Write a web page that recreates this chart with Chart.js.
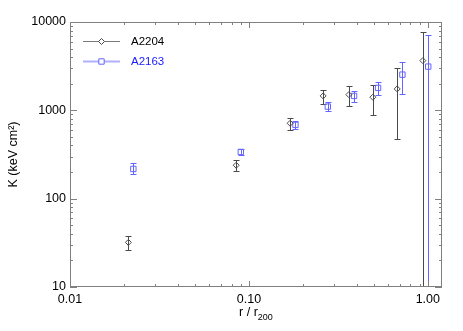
<!DOCTYPE html>
<html>
<head>
<meta charset="utf-8">
<script src="https://cdn.jsdelivr.net/npm/chart.js@4"></script>
<style>
  html, body { margin: 0; padding: 0; background: #fff; }
  #wrap { width: 463px; height: 331px; }
</style>
</head>
<body>
<div id="wrap"><canvas id="entropy" width="463" height="331"></canvas></div>
<script>
    'use strict';

    // A2204 (black diamonds)
    const rA2204 = [0.0212, 0.0849, 0.170, 0.260, 0.362, 0.493, 0.674, 0.938];
    const kA2204 = [32, 239, 714, 1456, 1506, 1407, 1747, 3655];
    const kA2204Hi = [37.8, 272, 827, 1716, 1875, 1924, 3045, 7660];
    const kA2204Lo = [26.2, 206, 600, 1172, 1122, 894, 471, 1];

    // A2163 (blue squares)
    const rA2163 = [0.0226, 0.0901, 0.182, 0.276, 0.387, 0.527, 0.721, 1.005];
    const kA2163 = [217, 338, 684, 1102, 1456, 1794, 2536, 3126];
    const kA2163Hi = [252, 368, 759, 1236, 1645, 2114, 3563, 7196];
    const kA2163Lo = [190, 310, 621, 977, 1256, 1483, 1521, 1];

    const xTicks = [0.01, 0.1, 1];
    const xTickLabels = ['0.01', '0.10', '1.00'];
    const yTicks = [10, 100, 1000, 10000];
    const yTickLabels = ['10', '100', '1000', '10000'];

    const BLACK = '#4a4a4a';
    const BLUE = '#6464ff';
    const FONT = '"Liberation Sans", Arial, sans-serif';

    function pts(xs, ys) { return xs.map((x, i) => ({ x: x, y: ys[i] })); }

    function minorValues(min, max) {
        const out = [];
        for (let e = Math.floor(Math.log10(min)); e <= Math.ceil(Math.log10(max)); e++) {
            for (let m = 1; m <= 9; m++) {
                const v = m * Math.pow(10, e);
                if (v >= min * 0.999 && v <= max * 1.001) out.push({ v: v, major: m === 1 });
            }
        }
        return out;
    }

    const framePlugin = {
        id: 'idlFrame',
        beforeDatasetsDraw(chart) {
            const { ctx, chartArea: a, scales: { x, y } } = chart;
            // error bars
            ctx.save();
            ctx.beginPath();
            ctx.rect(a.left, a.top, a.right - a.left, a.bottom - a.top);
            ctx.clip();
            const sets = [
                { r: rA2204, hi: kA2204Hi, lo: kA2204Lo, c: BLACK },
                { r: rA2163, hi: kA2163Hi, lo: kA2163Lo, c: BLUE }
            ];
            sets.forEach(s => {
                ctx.strokeStyle = s.c;
                ctx.lineWidth = 1;
                s.r.forEach((r, i) => {
                    const px = Math.round(x.getPixelForValue(r)) + 0.5;
                    const py1 = Math.round(y.getPixelForValue(s.hi[i])) + 0.5;
                    const py2 = Math.round(y.getPixelForValue(s.lo[i])) + 0.5;
                    ctx.beginPath();
                    ctx.moveTo(px, py1); ctx.lineTo(px, py2);
                    ctx.moveTo(px - 3, py1); ctx.lineTo(px + 3, py1);
                    ctx.moveTo(px - 3, py2); ctx.lineTo(px + 3, py2);
                    ctx.stroke();
                });
            });
            ctx.restore();
        },
        afterDraw(chart) {
            const { ctx, chartArea: a, scales: { x, y } } = chart;
            ctx.save();
            // frame
            ctx.strokeStyle = '#808080';
            ctx.lineWidth = 1;
            ctx.strokeRect(a.left + 0.5, a.top + 0.5, a.right - a.left - 1, a.bottom - a.top - 1);

            // inward ticks
            ctx.beginPath();
            minorValues(x.min, x.max).forEach(t => {
                const px = Math.round(x.getPixelForValue(t.v)) + 0.5;
                const len = t.major ? 6 : 3;
                ctx.moveTo(px, a.bottom); ctx.lineTo(px, a.bottom - len);
                ctx.moveTo(px, a.top); ctx.lineTo(px, a.top + len);
            });
            minorValues(y.min, y.max).forEach(t => {
                const py = Math.round(y.getPixelForValue(t.v)) + 0.5;
                const len = t.major ? 7 : 3;
                ctx.moveTo(a.left, py); ctx.lineTo(a.left + len, py);
                ctx.moveTo(a.right, py); ctx.lineTo(a.right - len, py);
            });
            ctx.stroke();

            // tick labels
            ctx.fillStyle = '#000';
            ctx.font = '12.5px ' + FONT;
            ctx.textAlign = 'center';
            ctx.textBaseline = 'middle';
            xTicks.forEach((v, i) => ctx.fillText(xTickLabels[i], x.getPixelForValue(v), a.bottom + 13));
            ctx.textAlign = 'right';
            yTicks.forEach((v, i) => ctx.fillText(yTickLabels[i], a.left - 4, y.getPixelForValue(v)));

            // x title: r / r200
            const cx = (a.left + a.right) / 2;
            ctx.font = '12.5px ' + FONT;
            const main = 'r / r';
            const wMain = ctx.measureText(main).width;
            ctx.font = '9px ' + FONT;
            const sub = '200';
            const wSub = ctx.measureText(sub).width;
            const x0 = cx - (wMain + wSub) / 2;
            ctx.textAlign = 'left';
            ctx.font = '12.5px ' + FONT;
            ctx.fillText(main, x0, a.bottom + 26);
            ctx.font = '9px ' + FONT;
            ctx.fillText(sub, x0 + wMain, a.bottom + 31);

            // y title
            ctx.save();
            ctx.translate(14, (a.top + a.bottom) / 2);
            ctx.rotate(-Math.PI / 2);
            ctx.textAlign = 'center';
            ctx.font = '12.5px ' + FONT;
            ctx.fillText('K (keV cm\u00b2)', 0, 0);
            ctx.restore();

            // legend
            const items = [
                { label: chart.data.datasets[0].label, line: '#7a7a7a', lw: 1, text: '#000', style: 'rectRot', r: 3, c: BLACK, y: 41 },
                { label: chart.data.datasets[1].label, line: '#b0b0ff', lw: 2, text: '#1a1aff', style: 'rect', r: 3.8, c: BLUE, y: 61 }
            ];
            items.forEach(it => {
                ctx.strokeStyle = it.line;
                ctx.lineWidth = it.lw;
                ctx.beginPath();
                ctx.moveTo(83, it.y + 0.5); ctx.lineTo(120, it.y + 0.5);
                ctx.stroke();
                ctx.fillStyle = '#fff';
                ctx.strokeStyle = it.c;
                ctx.lineWidth = 1;
                Chart.helpers.drawPoint(ctx, { pointStyle: it.style, radius: it.r, borderWidth: 1, rotation: 0 }, 101.5, it.y + 0.5);
                ctx.fillStyle = it.text;
                ctx.font = '11.5px ' + FONT;
                ctx.textAlign = 'left';
                ctx.textBaseline = 'middle';
                ctx.fillText(it.label, 131, it.y + 0.5);
            });
            ctx.restore();
        }
    };

    new Chart(document.getElementById('entropy').getContext('2d'), {
        type: 'scatter',
        data: {
            datasets: [
                {
                    label: 'A2204',
                    data: pts(rA2204, kA2204),
                    pointStyle: 'rectRot',
                    pointRadius: 3,
                    borderColor: BLACK,
                    backgroundColor: 'rgba(0,0,0,0)',
                    borderWidth: 1,
                    showLine: false
                },
                {
                    label: 'A2163',
                    data: pts(rA2163, kA2163),
                    pointStyle: 'rect',
                    pointRadius: 3.8,
                    borderColor: BLUE,
                    backgroundColor: 'rgba(0,0,0,0)',
                    borderWidth: 1,
                    showLine: false
                }
            ]
        },
        options: {
            responsive: false,
            animation: false,
            devicePixelRatio: 1,
            layout: { padding: { left: 70, top: 22, right: 21, bottom: 44 } },
            plugins: { legend: { display: false }, tooltip: { enabled: false } },
            scales: {
                x: { type: 'logarithmic', min: 0.01, max: 1.2, display: false },
                y: { type: 'logarithmic', min: 10, max: 10000, display: false }
            }
        },
        plugins: [framePlugin]
    });
</script>
</body>
</html>
